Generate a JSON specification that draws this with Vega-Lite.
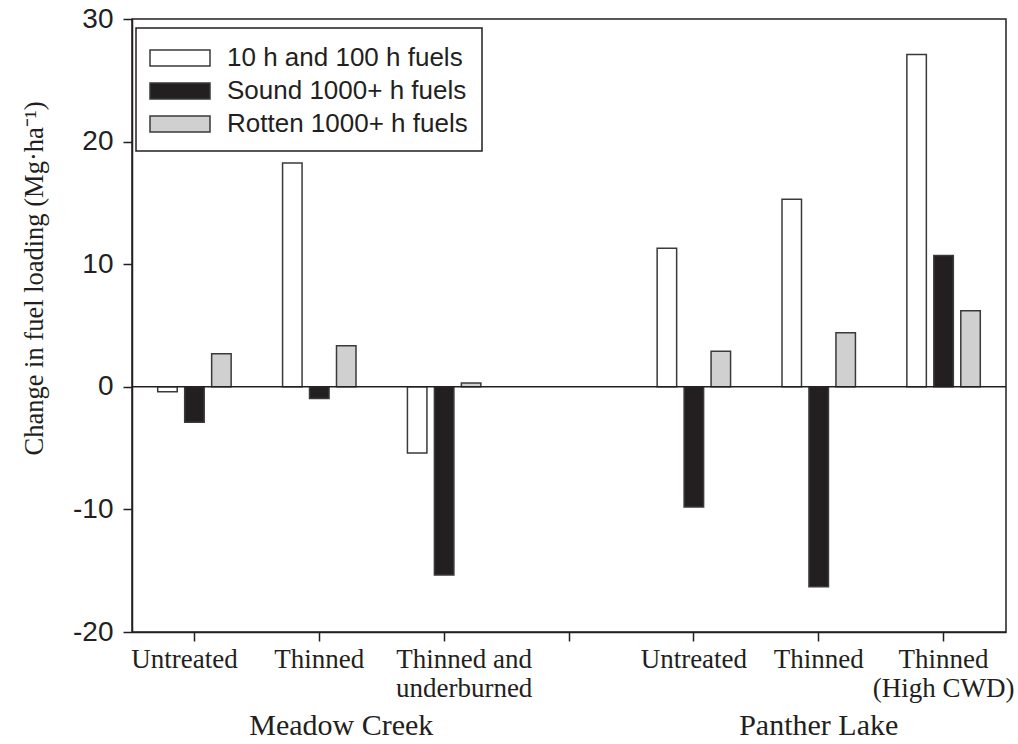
{
  "$schema": "https://vega.github.io/schema/vega-lite/v6.json",
  "width": 874,
  "height": 613,
  "autosize": "none",
  "padding": {"left": 132, "top": 19, "right": 12, "bottom": 112},
  "background": "white",
  "config": {
    "view": {"stroke": "#231f20", "strokeWidth": 1.5},
    "font": "Liberation Serif",
    "legend": {"strokeWidth": 1.5}
  },
  "datasets": {
    "bars": [
      {"slot": "MC_U", "series": "10 h and 100 h fuels", "value": -0.4},
      {"slot": "MC_U", "series": "Sound 1000+ h fuels", "value": -2.9},
      {"slot": "MC_U", "series": "Rotten 1000+ h fuels", "value": 2.7},
      {"slot": "MC_T", "series": "10 h and 100 h fuels", "value": 18.25},
      {"slot": "MC_T", "series": "Sound 1000+ h fuels", "value": -0.95},
      {"slot": "MC_T", "series": "Rotten 1000+ h fuels", "value": 3.35},
      {"slot": "MC_TU", "series": "10 h and 100 h fuels", "value": -5.4},
      {"slot": "MC_TU", "series": "Sound 1000+ h fuels", "value": -15.35},
      {"slot": "MC_TU", "series": "Rotten 1000+ h fuels", "value": 0.3},
      {"slot": "PL_U", "series": "10 h and 100 h fuels", "value": 11.3},
      {"slot": "PL_U", "series": "Sound 1000+ h fuels", "value": -9.8},
      {"slot": "PL_U", "series": "Rotten 1000+ h fuels", "value": 2.9},
      {"slot": "PL_T", "series": "10 h and 100 h fuels", "value": 15.3},
      {"slot": "PL_T", "series": "Sound 1000+ h fuels", "value": -16.3},
      {"slot": "PL_T", "series": "Rotten 1000+ h fuels", "value": 4.4},
      {"slot": "PL_TH", "series": "10 h and 100 h fuels", "value": 27.1},
      {"slot": "PL_TH", "series": "Sound 1000+ h fuels", "value": 10.7},
      {"slot": "PL_TH", "series": "Rotten 1000+ h fuels", "value": 6.2}
    ],
    "groups": [
      {"slot": "MC_T", "label": "Meadow Creek"},
      {"slot": "PL_T", "label": "Panther Lake"}
    ]
  },
  "layer": [
    {
      "data": {"name": "bars"},
      "mark": {"type": "bar", "size": 19.5, "stroke": "#3a3a3a", "strokeWidth": 1.5},
      "encoding": {
        "x": {
          "field": "slot",
          "type": "nominal",
          "scale": {"domain": ["MC_U", "MC_T", "MC_TU", "gap", "PL_U", "PL_T", "PL_TH"], "paddingInner": 0, "paddingOuter": 0},
          "axis": {
            "title": null,
            "labelAngle": 0,
            "labelExpr": "{'MC_U': 'Untreated', 'MC_T': 'Thinned', 'MC_TU': ['Thinned and', 'underburned'], 'gap': '', 'PL_U': 'Untreated', 'PL_T': 'Thinned', 'PL_TH': ['Thinned', '(High CWD)']}[datum.value]",
            "labelFont": "Liberation Serif",
            "labelFontSize": 27,
            "labelColor": "#231f20",
            "labelBaseline": "top",
            "labelLineHeight": 29,
            "labelPadding": 5,
            "labelOffset": {"condition": [{"test": "datum.value == 'MC_U'", "value": -10}, {"test": "datum.value == 'MC_TU'", "value": 20}], "value": 0},
            "tickSize": 9,
            "tickWidth": 1.5,
            "tickColor": "#231f20",
            "domainColor": "#231f20",
            "domainWidth": 1.5,
            "grid": false
          }
        },
        "xOffset": {
          "field": "series",
          "type": "nominal",
          "scale": {"domain": ["10 h and 100 h fuels", "Sound 1000+ h fuels", "Rotten 1000+ h fuels"], "paddingInner": 0, "paddingOuter": 0.815}
        },
        "y": {
          "field": "value",
          "type": "quantitative",
          "scale": {"domain": [-20, 30], "nice": false, "zero": false},
          "axis": {
            "title": "Change in fuel loading (Mg·ha⁻¹)",
            "values": [-20, -10, 0, 10, 20, 30],
            "labelExpr": "'' + datum.value",
            "grid": false,
            "tickSize": 9,
            "tickWidth": 1.5,
            "tickColor": "#231f20",
            "domainColor": "#231f20",
            "domainWidth": 1.5,
            "labelFont": "Liberation Sans",
            "labelFontSize": 28,
            "labelColor": "#231f20",
            "labelPadding": 10,
            "titleFont": "Liberation Serif",
            "titleFontSize": 26.5,
            "titleFontWeight": "normal",
            "titleColor": "#231f20",
            "titlePadding": 24,
            "titleY": 259
          }
        },
        "fill": {
          "field": "series",
          "type": "nominal",
          "scale": {"domain": ["10 h and 100 h fuels", "Sound 1000+ h fuels", "Rotten 1000+ h fuels"], "range": ["#ffffff", "#231f20", "#d0d0d0"]},
          "legend": {
            "title": null,
            "orient": "none",
            "legendX": 4,
            "legendY": 9,
            "symbolType": "M-2,-0.533H2V0.533H-2Z",
            "symbolSize": 900,
            "symbolOffset": 14,
            "symbolStrokeColor": "#3a3a3a",
            "symbolStrokeWidth": 1.5,
            "symbolOpacity": 1,
            "labelFont": "Liberation Sans",
            "labelFontSize": 26,
            "labelColor": "#231f20",
            "labelOffset": 31,
            "labelLimit": 400,
            "padding": 14,
            "rowPadding": 4,
            "strokeColor": "#231f20",
            "fillColor": "white"
          }
        }
      }
    },
    {
      "data": {"values": [{}]},
      "mark": {"type": "rule", "color": "#231f20", "strokeWidth": 1.5},
      "encoding": {"y": {"datum": 0}}
    },
    {
      "data": {"name": "groups"},
      "transform": [{"filter": "datum.label == 'Meadow Creek'"}],
      "mark": {"type": "text", "font": "Liberation Serif", "fontSize": 30, "color": "#231f20", "baseline": "middle", "align": "center", "dx": 22, "dy": 94},
      "encoding": {
        "x": {"field": "slot", "type": "nominal", "title": null},
        "y": {"datum": -20},
        "text": {"field": "label"}
      }
    },
    {
      "data": {"name": "groups"},
      "transform": [{"filter": "datum.label == 'Panther Lake'"}],
      "mark": {"type": "text", "font": "Liberation Serif", "fontSize": 30, "color": "#231f20", "baseline": "middle", "align": "center", "dx": 0, "dy": 94},
      "encoding": {
        "x": {"field": "slot", "type": "nominal", "title": null},
        "y": {"datum": -20},
        "text": {"field": "label"}
      }
    }
  ]
}
